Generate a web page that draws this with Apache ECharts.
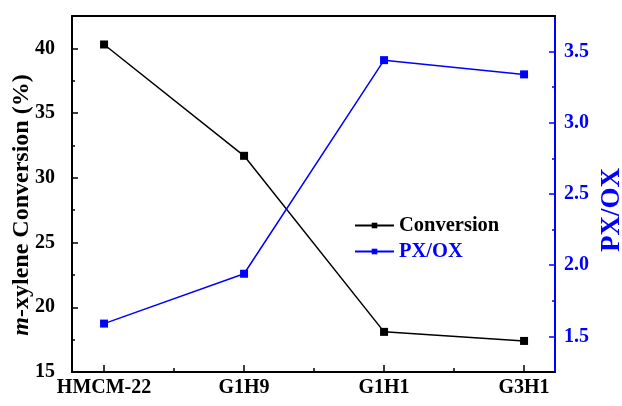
<!DOCTYPE html>
<html>
<head>
<meta charset="utf-8">
<script src="https://cdn.jsdelivr.net/npm/echarts@6/dist/echarts.min.js"></script>
<style>
  html, body { margin: 0; padding: 0; background: #fff; }
  #chart { width: 622px; height: 406px; }
</style>
</head>
<body>
<div id="chart"></div>
<script>
// Catalyst samples along the x axis
const categories = ['HMCM-22', 'G1H9', 'G1H1', 'G3H1'];
// m-xylene conversion (%)
const conversion = [40.3, 31.7, 18.1, 17.4];
// para/ortho xylene ratio
const pxox = [1.59, 1.94, 3.44, 3.34];
// tick values
const leftTicks = [15, 20, 25, 30, 35, 40];
const leftMinor = [17.5, 22.5, 27.5, 32.5, 37.5];
const rightTicks = [1.5, 2.0, 2.5, 3.0, 3.5];
const rightMinor = [1.75, 2.25, 2.75, 3.25];
const xTicks = [1, 2, 3, 4];
const xMinor = [1.5, 2.5, 3.5];

const FONT = '"Liberation Serif", "Times New Roman", serif';
const BLUE = '#0000ff';
const X_MIN = 0.771, X_MAX = 4.221;
const L_MIN = 15, L_MAX = 42.5;
const R_MIN = 1.25, R_MAX = 3.75;

const chart = echarts.init(document.getElementById('chart'));

function toPairs(vals) {
  return vals.map((v, i) => [xTicks[i], v]);
}

chart.setOption({
  animation: false,
  backgroundColor: '#fff',
  grid: { left: 72, right: 67, top: 16, bottom: 34 },
  legend: {
    orient: 'vertical',
    left: 349,
    top: 210,
    itemWidth: 39,
    itemHeight: 7,
    itemGap: 5,
    textStyle: { fontFamily: FONT, fontWeight: 'bold', fontSize: 20.5 },
    data: [
      { name: 'Conversion', textStyle: { color: '#000' } },
      { name: 'PX/OX', textStyle: { color: BLUE } }
    ]
  },
  // axis titles
  graphic: [
    {
      type: 'text', x: 22, y: 205, rotation: Math.PI / 2,
      style: {
        text: '{i|m}-xylene Conversion (%)',
        align: 'center', verticalAlign: 'middle',
        fill: '#000', font: 'bold 24px ' + FONT,
        rich: { i: { font: 'italic bold 24px ' + FONT, fill: '#000' } }
      }
    },
    {
      type: 'text', x: 612, y: 210, rotation: Math.PI / 2,
      style: {
        text: 'PX/OX', align: 'center', verticalAlign: 'middle',
        fill: BLUE, font: 'bold 27px ' + FONT
      }
    }
  ],
  xAxis: [
    {
      type: 'value', min: X_MIN, max: X_MAX, position: 'bottom',
      axisLine: { lineStyle: { color: '#000', width: 2 } },
      axisTick: { inside: true, length: 7, lineStyle: { color: '#000', width: 1.5 }, customValues: xTicks },
      axisLabel: {
        customValues: xTicks, margin: 6,
        formatter: v => categories[Math.round(v) - 1] || '',
        color: '#000', fontFamily: FONT, fontWeight: 'bold', fontSize: 20
      },
      splitLine: { show: false }
    },
    {
      // minor ticks between samples
      type: 'value', min: X_MIN, max: X_MAX, position: 'bottom',
      axisLine: { show: false },
      axisTick: { inside: true, length: 4, lineStyle: { color: '#000', width: 1.5 }, customValues: xMinor },
      axisLabel: { show: false },
      splitLine: { show: false }
    },
    {
      // top frame line
      type: 'value', min: X_MIN, max: X_MAX, position: 'top',
      axisLine: { lineStyle: { color: '#000', width: 2 } },
      axisTick: { show: false }, axisLabel: { show: false }, splitLine: { show: false }
    }
  ],
  yAxis: [
    {
      type: 'value', min: L_MIN, max: L_MAX, position: 'left',
      axisLine: { show: true, lineStyle: { color: '#000', width: 2 } },
      axisTick: { inside: true, length: 6, lineStyle: { color: '#000', width: 1.5 }, customValues: leftTicks },
      axisLabel: { customValues: leftTicks, margin: 17, color: '#000', fontFamily: FONT, fontWeight: 'bold', fontSize: 20 },
      splitLine: { show: false }
    },
    {
      type: 'value', min: L_MIN, max: L_MAX, position: 'left',
      axisLine: { show: false },
      axisTick: { inside: true, length: 3, lineStyle: { color: '#000', width: 1.5 }, customValues: leftMinor },
      axisLabel: { show: false }, splitLine: { show: false }
    },
    {
      type: 'value', min: R_MIN, max: R_MAX, position: 'right',
      axisLine: { show: true, lineStyle: { color: BLUE, width: 2 } },
      axisTick: { inside: true, length: 6, lineStyle: { color: BLUE, width: 1.5 }, customValues: rightTicks },
      axisLabel: {
        customValues: rightTicks, margin: 9, formatter: v => v.toFixed(1),
        color: BLUE, fontFamily: FONT, fontWeight: 'bold', fontSize: 20
      },
      splitLine: { show: false }
    },
    {
      type: 'value', min: R_MIN, max: R_MAX, position: 'right',
      axisLine: { show: false },
      axisTick: { inside: true, length: 3, lineStyle: { color: BLUE, width: 1.5 }, customValues: rightMinor },
      axisLabel: { show: false }, splitLine: { show: false }
    }
  ],
  series: [
    {
      name: 'Conversion', type: 'line', xAxisIndex: 0, yAxisIndex: 0,
      data: toPairs(conversion),
      symbol: 'rect', symbolSize: 8,
      lineStyle: { color: '#000', width: 1.5 },
      itemStyle: { color: '#000' }
    },
    {
      name: 'PX/OX', type: 'line', xAxisIndex: 0, yAxisIndex: 2,
      data: toPairs(pxox),
      symbol: 'rect', symbolSize: 8,
      lineStyle: { color: BLUE, width: 1.5 },
      itemStyle: { color: BLUE }
    }
  ]
});
</script>
</body>
</html>
